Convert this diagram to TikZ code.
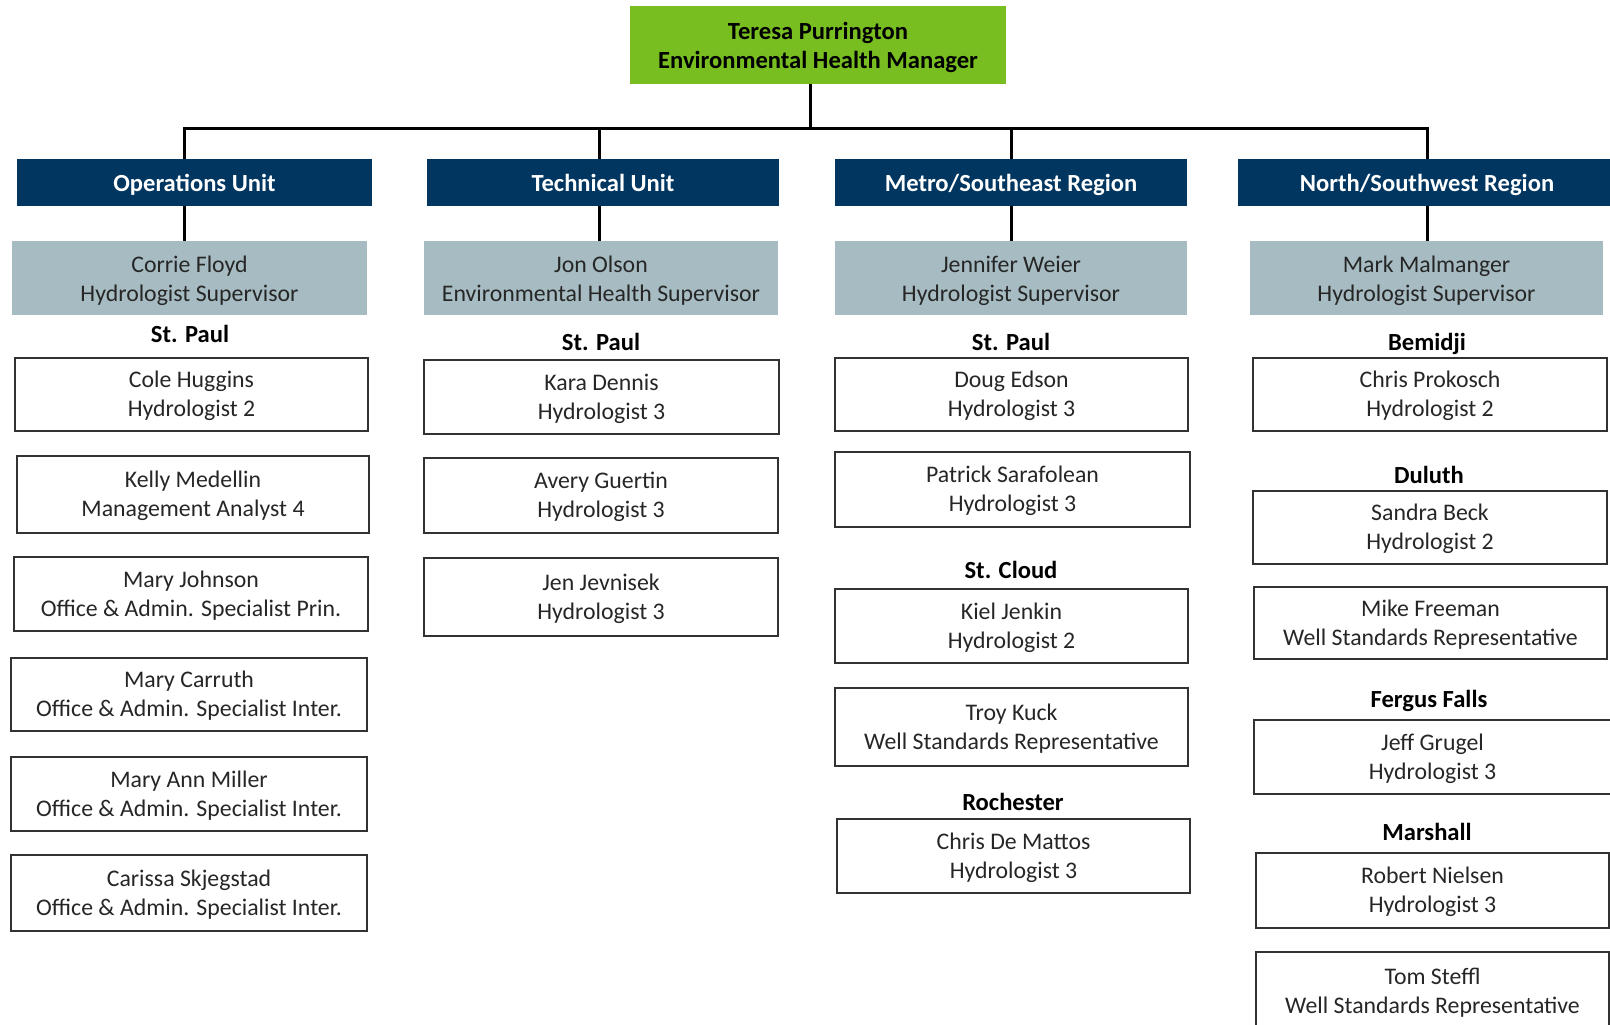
\documentclass[tikz,border=0pt]{standalone}
\usepackage{fontspec}
\setmainfont{Carlito}
\definecolor{mgreen}{RGB}{120,190,32}
\definecolor{mnavy}{RGB}{0,54,96}
\definecolor{mgray}{RGB}{167,188,194}
\definecolor{mtext}{RGB}{38,38,38}
\definecolor{mborder}{RGB}{50,50,50}
\newcommand\mystrut{\rule[-7pt]{0pt}{29pt}}
\newcommand\hstrut{\rule[-5.5pt]{0pt}{29pt}}
\newcommand\twoline[2]{\mystrut #1\\\mystrut #2}
\newcommand\htwoline[2]{\hstrut #1\\\hstrut #2}
\tikzset{
  base/.style={inner sep=0pt, outer sep=0pt, align=center, text=mtext,
    font=\fontsize{23.8}{29}\selectfont},
  topbox/.style={base, fill=mgreen, font=\fontsize{24.6}{29.5}\bfseries\selectfont, text=black},
  unitbox/.style={base, fill=mnavy, text=white, font=\fontsize{24.6}{30}\bfseries\selectfont},
  supbox/.style={base, fill=mgray},
  pbox/.style={base, draw=mborder, line width=1.6pt},
  loclabel/.style={inner sep=0pt, text=black, font=\fontsize{24.6}{30}\bfseries\selectfont},
  conn/.style={draw=black, line width=3pt}
}
\begin{document}
\begin{tikzpicture}[x=1pt,y=-1pt]
\useasboundingbox (0,0) rectangle (1610,1025);
\clip (0,0) rectangle (1610,1025);

% top
\node[topbox, minimum width=376pt, minimum height=78pt] (top) at (818,45) {\htwoline{Teresa Purrington}{Environmental Health Manager}};

% units
\node[unitbox, minimum width=355pt, minimum height=47pt] (ops) at (194.5,182.5) {\hstrut Operations Unit};
\node[unitbox, minimum width=352pt, minimum height=47pt] (tech) at (603,182.5) {\hstrut Technical Unit};
\node[unitbox, minimum width=352pt, minimum height=47pt] (metro) at (1011,182.5) {\hstrut Metro/Southeast Region};
\node[unitbox, minimum width=378pt, minimum height=47pt] (north) at (1427,182.5) {\hstrut North/Southwest Region};

% supervisors
\node[supbox, minimum width=355pt, minimum height=74pt] (corrie) at (189.5,278) {\htwoline{Corrie Floyd}{Hydrologist Supervisor}};
\node[supbox, minimum width=354pt, minimum height=74pt] (jon) at (601,278) {\htwoline{Jon Olson}{Environmental Health Supervisor}};
\node[supbox, minimum width=352pt, minimum height=74pt] (jennifer) at (1011,278) {\htwoline{Jennifer Weier}{Hydrologist Supervisor}};
\node[supbox, minimum width=353pt, minimum height=74pt] (mark) at (1426.5,278) {\htwoline{Mark Malmanger}{Hydrologist Supervisor}};

% connector coordinates
\coordinate (trunk) at (810,127);
\coordinate (c1) at (184,128);
\coordinate (c2) at (599,128);
\coordinate (c3) at (1011,128);
\coordinate (c4) at (1427,128);

\draw[conn] (top.south -| trunk) -- (trunk |- c1);
\draw[conn] (ops.north -| c1) -- (c1) -- (c4) -- (north.north -| c4);
\draw[conn] (c2) -- (tech.north -| c2);
\draw[conn] (c3) -- (metro.north -| c3);
\draw[conn] (ops.south -| c1) -- (corrie.north -| c1);
\draw[conn] (tech.south -| c2) -- (jon.north -| c2);
\draw[conn] (metro.south -| c3) -- (jennifer.north -| c3);
\draw[conn] (north.south -| c4) -- (mark.north -| c4);

% location labels
\node[loclabel] (sp1) at (190,334.5) {\mystrut St. Paul};
\node[loclabel] (sp2) at (601,342.5) {\mystrut St. Paul};
\node[loclabel] (sp3) at (1011,342.5) {\mystrut St. Paul};
\node[loclabel] (bemidji) at (1427,342.5) {\mystrut Bemidji};
\node[loclabel] (stcloud) at (1011,570.5) {\mystrut St. Cloud};
\node[loclabel] (rochester) at (1013,802.5) {\mystrut Rochester};
\node[loclabel] (duluth) at (1429,475.5) {\mystrut Duluth};
\node[loclabel] (fergus) at (1429,699.5) {\mystrut Fergus Falls};
\node[loclabel] (marshall) at (1427,833) {\mystrut Marshall};

% column 1
\node[pbox, minimum width=353pt, minimum height=73pt] (cole) at (191.5,394.5) {\twoline{Cole Huggins}{Hydrologist 2}};
\node[pbox, minimum width=352pt, minimum height=77pt] (kelly) at (193,494.5) {\twoline{Kelly Medellin}{Management Analyst 4}};
\node[pbox, minimum width=354pt, minimum height=74pt] (johnson) at (191,594) {\twoline{Mary Johnson}{Office \& Admin. Specialist Prin.}};
\node[pbox, minimum width=356pt, minimum height=73pt] (carruth) at (189,694.5) {\twoline{Mary Carruth}{Office \& Admin. Specialist Inter.}};
\node[pbox, minimum width=356pt, minimum height=74pt] (miller) at (189,794) {\twoline{Mary Ann Miller}{Office \& Admin. Specialist Inter.}};
\node[pbox, minimum width=356pt, minimum height=76pt] (carissa) at (189,893) {\twoline{Carissa Skjegstad}{Office \& Admin. Specialist Inter.}};

% column 2
\node[pbox, minimum width=355pt, minimum height=74pt] (kara) at (601.5,397) {\twoline{Kara Dennis}{Hydrologist 3}};
\node[pbox, minimum width=354pt, minimum height=75pt] (avery) at (601,495.5) {\twoline{Avery Guertin}{Hydrologist 3}};
\node[pbox, minimum width=354pt, minimum height=78pt] (jen) at (601,597) {\twoline{Jen Jevnisek}{Hydrologist 3}};

% column 3
\node[pbox, minimum width=353pt, minimum height=73pt] (doug) at (1011.5,394.5) {\twoline{Doug Edson}{Hydrologist 3}};
\node[pbox, minimum width=355pt, minimum height=75pt] (patrick) at (1012.5,489.5) {\twoline{Patrick Sarafolean}{Hydrologist 3}};
\node[pbox, minimum width=353pt, minimum height=74pt] (kiel) at (1011.5,626) {\twoline{Kiel Jenkin}{Hydrologist 2}};
\node[pbox, minimum width=353pt, minimum height=78pt] (troy) at (1011.5,727) {\twoline{Troy Kuck}{Well Standards Representative}};
\node[pbox, minimum width=353pt, minimum height=74pt] (demattos) at (1013.5,856) {\twoline{Chris De Mattos}{Hydrologist 3}};

% column 4
\node[pbox, minimum width=354pt, minimum height=73pt] (prokosch) at (1430,394.5) {\twoline{Chris Prokosch}{Hydrologist 2}};
\node[pbox, minimum width=354pt, minimum height=73pt] (beck) at (1430,527.5) {\twoline{Sandra Beck}{Hydrologist 2}};
\node[pbox, minimum width=353pt, minimum height=72pt] (freeman) at (1430.5,623) {\twoline{Mike Freeman}{Well Standards Representative}};
\node[pbox, minimum width=357pt, minimum height=74pt] (grugel) at (1432.5,757) {\twoline{Jeff Grugel}{Hydrologist 3}};
\node[pbox, minimum width=353pt, minimum height=75pt] (nielsen) at (1432.5,890.5) {\twoline{Robert Nielsen}{Hydrologist 3}};
\node[pbox, minimum width=353pt, minimum height=78pt] (steffl) at (1432.5,991) {\twoline{Tom Steffl}{Well Standards Representative}};
\end{tikzpicture}
\end{document}
